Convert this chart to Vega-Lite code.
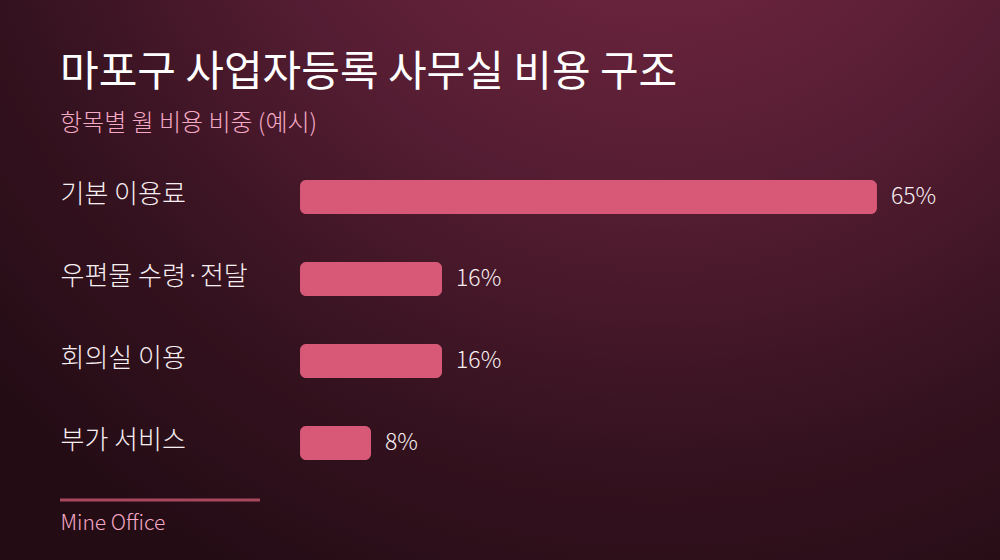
{
  "$schema": "https://vega.github.io/schema/vega-lite/v6.json",
  "autosize": {"type": "fit", "contains": "padding"},
  "width": 1000,
  "height": 560,
  "padding": 0,
  "background": "#2a0f19",
  "title": {
    "text": "마포구 사업자등록 사무실 비용 구조",
    "subtitle": "항목별 월 비용 비중 (예시)",
    "anchor": "start",
    "frame": "group",
    "orient": "top",
    "offset": -137,
    "dx": 60,
    "font": "Noto Sans CJK KR",
    "fontSize": 42,
    "fontWeight": 400,
    "color": "#ffffff",
    "subtitleFont": "Noto Sans CJK KR",
    "subtitleFontSize": 24,
    "subtitleFontWeight": 300,
    "subtitleColor": "#f4a9c4",
    "subtitlePadding": 17
  },
  "data": {
    "values": [
      {"item": "기본 이용료", "share": 0.65},
      {"item": "우편물 수령·전달", "share": 0.16},
      {"item": "회의실 이용", "share": 0.16},
      {"item": "부가 서비스", "share": 0.08}
    ]
  },
  "encoding": {
    "y": {
      "field": "item",
      "type": "nominal",
      "sort": null,
      "scale": {"range": [156, 484], "paddingInner": 0.585, "paddingOuter": 0.2925},
      "axis": {
        "title": null,
        "domain": false,
        "ticks": false,
        "tickSize": 0,
        "labelPadding": -60,
        "labelAlign": "left",
        "labelOffset": -2,
        "labelFont": "Noto Sans CJK KR",
        "labelFontSize": 26,
        "labelFontWeight": 300,
        "labelColor": "#f7eef1",
        "labelLimit": 300
      }
    }
  },
  "layer": [
    {
      "mark": {"type": "bar", "color": "#d75877", "cornerRadius": 6},
      "encoding": {
        "x": {
          "field": "share",
          "type": "quantitative",
          "scale": {"domain": [-0.338, 0.7886], "nice": false, "zero": false},
          "axis": {
            "title": "Mine Office",
            "labels": false,
            "ticks": false,
            "domain": false,
            "grid": false,
            "titleAnchor": "start",
            "titleAlign": "left",
            "titleX": 60,
            "titleY": -31,
            "titleBaseline": "alphabetic",
            "titleFont": "Noto Sans CJK KR",
            "titleFontSize": 21,
            "titleFontWeight": 300,
            "titleColor": "#f4a9c4"
          }
        }
      }
    },
    {
      "mark": {
        "type": "text",
        "align": "left",
        "baseline": "middle",
        "dx": 14,
        "font": "Noto Sans CJK KR",
        "fontSize": 23,
        "fontWeight": 300,
        "color": "#f7eef1"
      },
      "encoding": {
        "x": {"field": "share", "type": "quantitative"},
        "text": {"field": "share", "type": "quantitative", "format": ".0%"}
      }
    },
    {
      "data": {"values": [{"start": -0.2704, "end": -0.0451}]},
      "mark": {"type": "rule", "color": "#a8485f", "strokeWidth": 3},
      "encoding": {
        "x": {"field": "start", "type": "quantitative"},
        "x2": {"field": "end"},
        "y": {"value": 500}
      }
    }
  ],
  "config": {
    "view": {
      "stroke": null,
      "fill": {
        "gradient": "radial",
        "x1": 0.66, "y1": 0.0, "r1": 0,
        "x2": 0.66, "y2": 0.0, "r2": 0.9,
        "stops": [
          {"offset": 0, "color": "#7c2b45"},
          {"offset": 0.45, "color": "#561d33"},
          {"offset": 0.75, "color": "#35121f"},
          {"offset": 1, "color": "#240c15"}
        ]
      }
    }
  }
}
